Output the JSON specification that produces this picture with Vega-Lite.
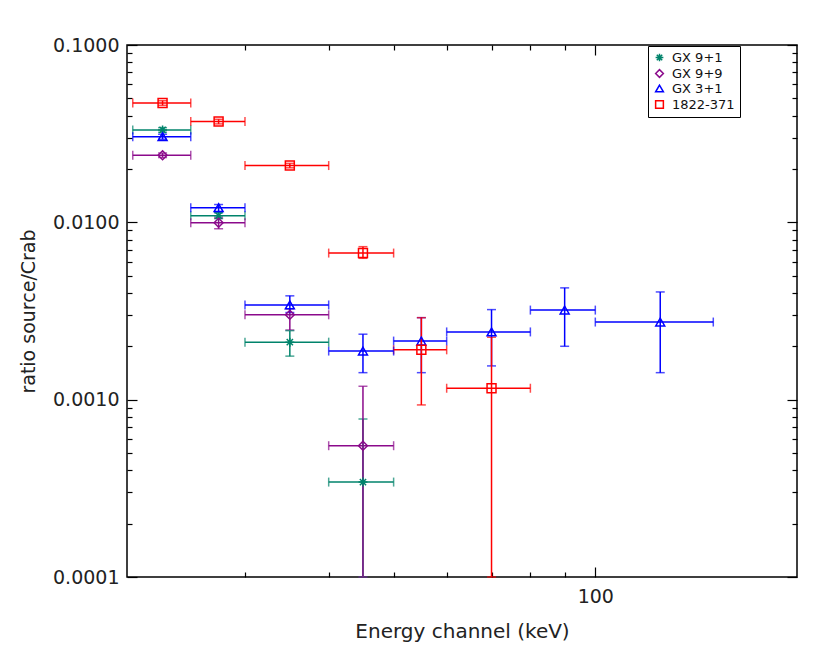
{
  "$schema": "https://vega.github.io/schema/vega-lite/v6.json",
  "autosize": "none",
  "width": 670,
  "height": 532,
  "padding": {"left": 127, "top": 45, "right": 33, "bottom": 85},
  "background": "white",
  "config": {
    "view": {"stroke": "#000", "strokeWidth": 1.5},
    "font": "DejaVu Sans",
    "axis": {"domain": false, "grid": false, "tickColor": "#000", "tickWidth": 1.2, "labelColor": "#222", "titleColor": "#222", "labelFont": "DejaVu Sans", "titleFont": "DejaVu Sans", "titleFontWeight": "normal", "labelFontSize": 19},
    "legend": {"labelFont": "DejaVu Sans", "labelFontSize": 13, "labelColor": "#111"}
  },
  "data": {"values": [
    {"src": "GX 9+1", "lo": 20.4, "hi": 24.9, "xc": 22.6, "v": 0.0332, "vlo": 0.0322, "vhi": 0.0342},
    {"src": "GX 9+1", "lo": 24.9, "hi": 30, "xc": 27.4, "v": 0.0109, "vlo": 0.0105, "vhi": 0.0113},
    {"src": "GX 9+1", "lo": 30, "hi": 40, "xc": 35, "v": 0.00211, "vlo": 0.00176, "vhi": 0.00245},
    {"src": "GX 9+1", "lo": 40, "hi": 50, "xc": 45, "v": 0.000343, "vlo": 0.0001, "vhi": 0.000778},
    {"src": "GX 9+9", "lo": 20.4, "hi": 24.9, "xc": 22.6, "v": 0.0239, "vlo": 0.0232, "vhi": 0.0246},
    {"src": "GX 9+9", "lo": 24.9, "hi": 30, "xc": 27.4, "v": 0.00994, "vlo": 0.0092, "vhi": 0.0106},
    {"src": "GX 9+9", "lo": 30, "hi": 40, "xc": 35, "v": 0.00301, "vlo": 0.00247, "vhi": 0.00325},
    {"src": "GX 9+9", "lo": 40, "hi": 50, "xc": 45, "v": 0.00055, "vlo": 0.0001, "vhi": 0.00119},
    {"src": "GX 3+1", "lo": 20.4, "hi": 24.9, "xc": 22.6, "v": 0.0304, "vlo": 0.0294, "vhi": 0.0314},
    {"src": "GX 3+1", "lo": 24.9, "hi": 30, "xc": 27.4, "v": 0.0121, "vlo": 0.0114, "vhi": 0.0126},
    {"src": "GX 3+1", "lo": 30, "hi": 40, "xc": 35, "v": 0.00342, "vlo": 0.0031, "vhi": 0.00385},
    {"src": "GX 3+1", "lo": 40, "hi": 50, "xc": 45, "v": 0.00188, "vlo": 0.00142, "vhi": 0.00234},
    {"src": "GX 3+1", "lo": 50, "hi": 60, "xc": 55, "v": 0.00214, "vlo": 0.00142, "vhi": 0.0029},
    {"src": "GX 3+1", "lo": 60, "hi": 80, "xc": 70, "v": 0.00241, "vlo": 0.00155, "vhi": 0.00322},
    {"src": "GX 3+1", "lo": 80, "hi": 100, "xc": 90, "v": 0.0032, "vlo": 0.002, "vhi": 0.00427},
    {"src": "GX 3+1", "lo": 100, "hi": 150, "xc": 125, "v": 0.00274, "vlo": 0.00142, "vhi": 0.00405},
    {"src": "1822-371", "lo": 20.4, "hi": 24.9, "xc": 22.6, "v": 0.0471, "vlo": 0.0457, "vhi": 0.0485},
    {"src": "1822-371", "lo": 24.9, "hi": 30, "xc": 27.4, "v": 0.037, "vlo": 0.0359, "vhi": 0.0381},
    {"src": "1822-371", "lo": 30, "hi": 40, "xc": 35, "v": 0.0209, "vlo": 0.0203, "vhi": 0.0215},
    {"src": "1822-371", "lo": 40, "hi": 50, "xc": 45, "v": 0.00671, "vlo": 0.00627, "vhi": 0.00729},
    {"src": "1822-371", "lo": 50, "hi": 60, "xc": 55, "v": 0.00191, "vlo": 0.000934, "vhi": 0.0029},
    {"src": "1822-371", "lo": 60, "hi": 80, "xc": 70, "v": 0.00116, "vlo": 0.0001, "vhi": 0.00225}
  ]},
  "resolve": {"axis": {"x": "independent", "y": "independent"}, "scale": {"color": "independent", "shape": "independent"}},
  "layer": [
    {
      "mark": {"type": "errorbar", "ticks": {"size": 9}, "thickness": 1.5},
      "encoding": {
        "x": {"field": "lo", "type": "quantitative", "scale": {"type": "log", "domain": [20, 200], "nice": false},
          "axis": {"orient": "bottom", "values": [30, 40, 50, 60, 70, 80, 90, 100], "labelExpr": "datum.value == 100 ? '100' : ''",
            "tickSize": {"condition": {"test": "datum.value == 100", "value": -10}, "value": -5},
            "labelPadding": 20, "title": "Energy channel (keV)", "titleFontSize": 20, "titlePadding": 15}},
        "x2": {"field": "hi"},
        "y": {"field": "v", "type": "quantitative", "scale": {"type": "log", "domain": [0.0001, 0.1], "nice": false},
          "axis": {"orient": "left",
            "values": [0.0001, 0.0002, 0.0003, 0.0004, 0.0005, 0.0006, 0.0007, 0.0008, 0.0009, 0.001, 0.002, 0.003, 0.004, 0.005, 0.006, 0.007, 0.008, 0.009, 0.01, 0.02, 0.03, 0.04, 0.05, 0.06, 0.07, 0.08, 0.09, 0.1],
            "format": ".4f",
            "labelExpr": "abs(log(datum.value)/LN10 - round(log(datum.value)/LN10)) < 0.001 ? datum.label : ''",
            "tickSize": {"condition": {"test": "abs(log(datum.value)/LN10 - round(log(datum.value)/LN10)) < 0.001", "value": -10}, "value": -5},
            "labelPadding": 18, "title": "ratio source/Crab", "titleFontSize": 19, "titlePadding": 14}},
        "color": {"field": "src", "type": "nominal", "legend": null,
          "scale": {"domain": ["GX 9+1", "GX 9+9", "GX 3+1", "1822-371"], "range": ["#00836b", "#8b0a8b", "#0000ff", "#ff0000"]}}
      }
    },
    {
      "mark": {"type": "errorbar", "ticks": {"size": 9}, "thickness": 1.5},
      "encoding": {
        "x": {"field": "xc", "type": "quantitative",
          "axis": {"orient": "top", "values": [30, 40, 50, 60, 70, 80, 90, 100], "labels": false, "title": null,
            "tickSize": {"condition": {"test": "datum.value == 100", "value": -10}, "value": -5}}},
        "y": {"field": "vlo", "type": "quantitative",
          "axis": {"orient": "right", "labels": false, "title": null,
            "values": [0.0001, 0.0002, 0.0003, 0.0004, 0.0005, 0.0006, 0.0007, 0.0008, 0.0009, 0.001, 0.002, 0.003, 0.004, 0.005, 0.006, 0.007, 0.008, 0.009, 0.01, 0.02, 0.03, 0.04, 0.05, 0.06, 0.07, 0.08, 0.09, 0.1],
            "tickSize": {"condition": {"test": "abs(log(datum.value)/LN10 - round(log(datum.value)/LN10)) < 0.001", "value": -10}, "value": -5}}},
        "y2": {"field": "vhi"},
        "color": {"field": "src", "type": "nominal", "legend": null,
          "scale": {"domain": ["GX 9+1", "GX 9+9", "GX 3+1", "1822-371"], "range": ["#00836b", "#8b0a8b", "#0000ff", "#ff0000"]}}
      }
    },
    {
      "mark": {"type": "point", "filled": false, "strokeWidth": 1.5, "size": 80, "opacity": 1},
      "encoding": {
        "x": {"field": "xc", "type": "quantitative", "axis": null},
        "y": {"field": "v", "type": "quantitative", "axis": null},
        "color": {"field": "src", "type": "nominal",
          "scale": {"domain": ["GX 9+1", "GX 9+9", "GX 3+1", "1822-371"], "range": ["#00836b", "#8b0a8b", "#0000ff", "#ff0000"]},
          "legend": {"title": null, "orient": "none", "legendX": 521, "legendY": 1, "strokeColor": "#000", "fillColor": "#fff", "padding": 5, "rowPadding": 1, "symbolSize": 60, "symbolStrokeWidth": 1.5, "labelOffset": 6}},
        "shape": {"field": "src", "type": "nominal",
          "scale": {"domain": ["GX 9+1", "GX 9+9", "GX 3+1", "1822-371"], "range": ["M-1,0L1,0M0,-1L0,1M-0.7,-0.7L0.7,0.7M-0.7,0.7L0.7,-0.7", "diamond", "triangle-up", "square"]},
          "legend": {"title": null, "orient": "none", "legendX": 521, "legendY": 1, "strokeColor": "#000", "fillColor": "#fff", "padding": 5, "rowPadding": 1, "symbolSize": 60, "symbolStrokeWidth": 1.5, "labelOffset": 6}}
      }
    }
  ]
}
